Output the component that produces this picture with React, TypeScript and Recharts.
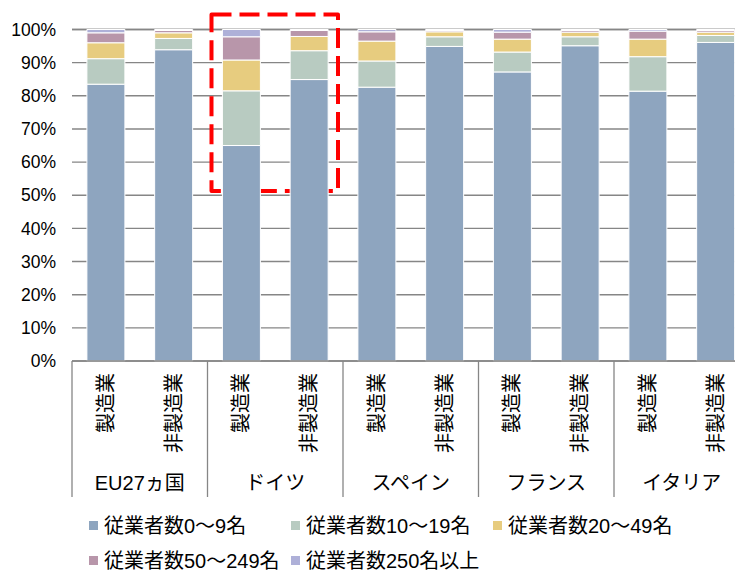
import React from "react";
import {
  BarChart,
  Bar,
  XAxis,
  YAxis,
  CartesianGrid,
  Legend,
  ReferenceArea,
} from "recharts";

const groups = ["EU27ヵ国", "ドイツ", "スペイン", "フランス", "イタリア"];
const sectors = ["製造業", "非製造業"];
const seriesNames = [
  "従業者数0～9名",
  "従業者数10～19名",
  "従業者数20～49名",
  "従業者数50～249名",
  "従業者数250名以上",
];
const seriesColors = ["#8EA5BF", "#B8CBC1", "#E7CC7F", "#B896AA", "#AEB0D8"];

// shares in %, order: each country -> 製造業, 非製造業
const size0to9 = [83.5, 93.9, 65.0, 84.9, 82.6, 94.9, 87.2, 95.1, 81.4, 96.1];
const size10to19 = [7.7, 3.4, 16.5, 8.7, 7.9, 2.9, 6.0, 2.7, 10.4, 2.1];
const size20to49 = [4.8, 1.7, 9.3, 4.3, 6.0, 1.5, 3.9, 1.4, 5.3, 1.0];
const size50to249 = [3.0, 0.7, 7.0, 1.8, 2.8, 0.4, 2.1, 0.5, 2.4, 0.5];
const size250plus = [1.0, 0.3, 2.2, 0.3, 0.7, 0.3, 0.8, 0.3, 0.5, 0.3];

const yTicks = [0, 10, 20, 30, 40, 50, 60, 70, 80, 90, 100];

// highlighted group (red dashed box)
const highlightGroup = "ドイツ";
const highlightRange = [51.3, 104.5];

const seriesValues = [size0to9, size10to19, size20to49, size50to249, size250plus];
const seriesKeys = ["s0", "s1", "s2", "s3", "s4"];

const data = groups.flatMap((group, gi) =>
  sectors.map((sector, si) => {
    const i = gi * 2 + si;
    const row: Record<string, string | number> = { key: group + sector, group, sector };
    seriesKeys.forEach((k, j) => {
      row[k] = seriesValues[j][i];
    });
    return row;
  })
);

const FONT = '"Liberation Sans", Arial, "Noto Sans CJK JP", sans-serif';
const LINE = "#868686";

function CategoryTick(props: any) {
  const { x, y, payload, index } = props;
  const row = data[index];
  const half = payload && payload.offset ? payload.offset : 33.9;
  const first = index % 2 === 0;
  const last = index === data.length - 1;
  return (
    <g>
      <text
        x={x}
        y={y + 12}
        transform={`rotate(-90 ${x} ${y + 12})`}
        textAnchor="end"
        dominantBaseline="central"
        fontSize={20}
        fontFamily={FONT}
        fill="#000"
      >
        {row.sector}
      </text>
      {first && (
        <line x1={x - half} x2={x - half} y1={y} y2={y + 136} stroke={LINE} strokeWidth={1.3} />
      )}
      {first && (
        <text
          x={x + half}
          y={y + 122}
          textAnchor="middle"
          dominantBaseline="central"
          fontSize={20}
          fontFamily={FONT}
          fill="#000"
        >
          {row.group}
        </text>
      )}
      {last && (
        <line x1={x + half} x2={x + half} y1={y} y2={y + 136} stroke={LINE} strokeWidth={1.3} />
      )}
    </g>
  );
}

function LegendContent() {
  return (
    <div
      style={{
        display: "grid",
        gridTemplateColumns: "202px 202px 202px",
        paddingLeft: 89,
        paddingTop: 11,
        fontFamily: FONT,
        fontSize: 20,
        lineHeight: "22px",
        color: "#000",
      }}
    >
      {seriesNames.map((name, i) => (
        <div key={name} style={{ display: "flex", alignItems: "center", height: 35, whiteSpace: "nowrap" }}>
          <span
            style={{
              display: "inline-block",
              width: 9,
              height: 9,
              background: seriesColors[i],
              marginRight: 6,
            }}
          />
          {name}
        </div>
      ))}
    </div>
  );
}

function HighlightBox(props: any) {
  const { x, y, width, height } = props;
  return (
    <rect
      x={x + 4}
      y={y}
      width={width - 9}
      height={height}
      fill="none"
      stroke="#FF0000"
      strokeWidth={4}
      strokeDasharray="20 8"
      strokeLinejoin="round"
    />
  );
}

export default function App() {
  return (
    <div
      style={{
        position: "fixed",
        left: 0,
        top: 0,
        width: 735,
        height: 572,
        overflow: "hidden",
        background: "#fff",
        fontFamily: FONT,
      }}
    >
      <BarChart
        width={790}
        height={572}
        data={data}
        margin={{ top: 29.5, right: 40.5, left: 0, bottom: 0 }}
        barCategoryGap="22%"
      >
        <CartesianGrid vertical={false} stroke={LINE} strokeWidth={1.4} />
        <XAxis
          dataKey="key"
          interval={0}
          height={136}
          tickLine={false}
          tickSize={0}
          tickMargin={0}
          axisLine={{ stroke: LINE, strokeWidth: 1.4 }}
          tick={<CategoryTick />}
        />
        <YAxis
          width={72}
          domain={[0, 100]}
          ticks={yTicks}
          interval={0}
          tickFormatter={(v: number) => `${v}%`}
          axisLine={false}
          tickLine={false}
          tickMargin={10}
          tick={{ fill: "#000", fontSize: 17.5, fontFamily: FONT }}
        />
        {seriesKeys.map((k, i) => (
          <Bar
            key={k}
            dataKey={k}
            name={seriesNames[i]}
            stackId="a"
            fill={seriesColors[i]}
            stroke="#ffffff"
            strokeWidth={1}
            isAnimationActive={false}
          />
        ))}
        <ReferenceArea
          x1={highlightGroup + sectors[0]}
          x2={highlightGroup + sectors[1]}
          y1={highlightRange[0]}
          y2={highlightRange[1]}
          ifOverflow="visible"
          shape={<HighlightBox />}
        />
        <Legend verticalAlign="bottom" align="left" height={75} content={<LegendContent />} />
      </BarChart>
    </div>
  );
}
